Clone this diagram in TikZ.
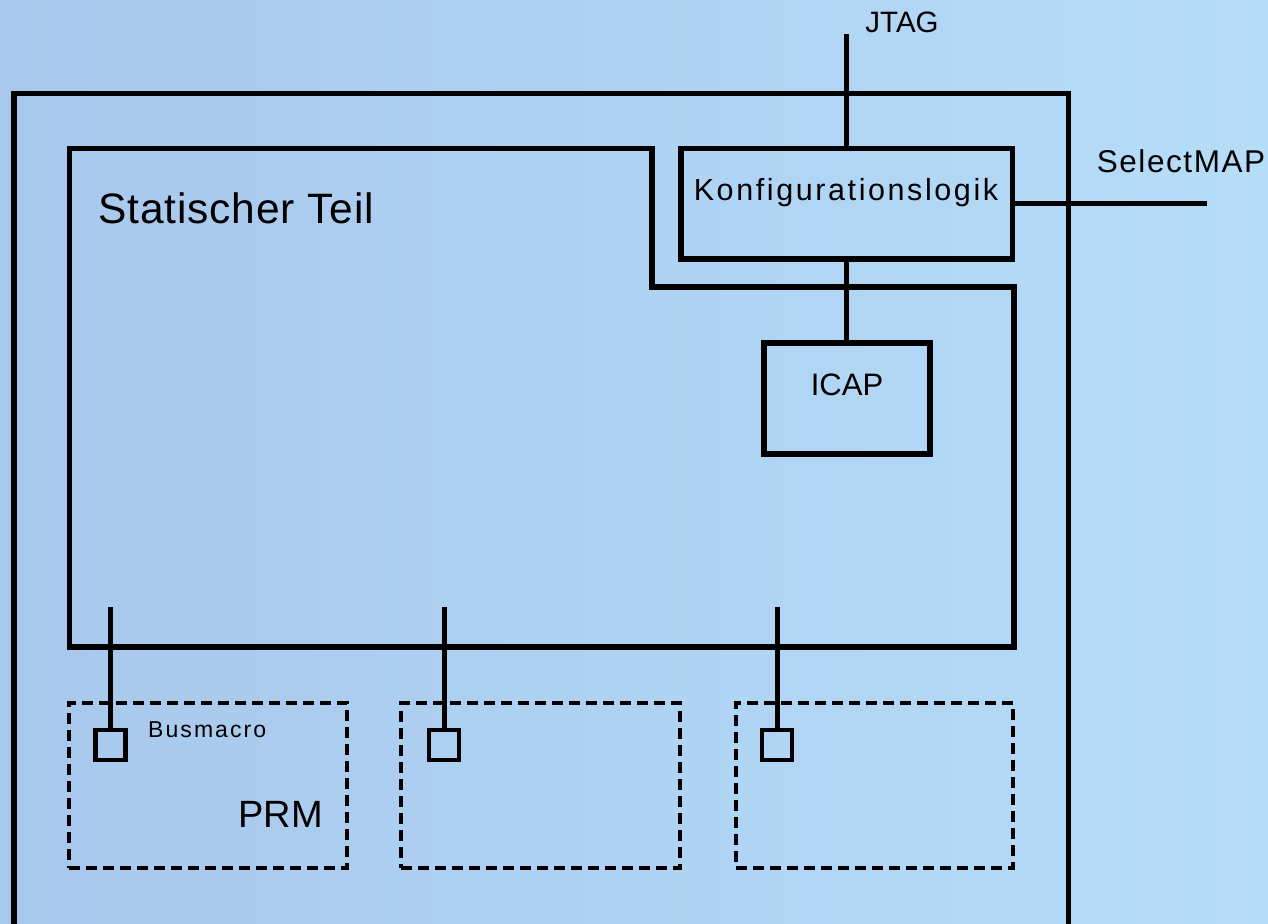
\documentclass[tikz,border=0pt]{standalone}
\usepackage{fontspec}
\setmainfont{Liberation Sans}
\newfontfamily\konffont[LetterSpace=8.5]{Liberation Sans}
\newfontfamily\busfont[LetterSpace=9]{Liberation Sans}
\newfontfamily\stfont[LetterSpace=2]{Liberation Sans}
\newfontfamily\selfont[LetterSpace=5]{Liberation Sans}
\definecolor{bgL}{RGB}{168,199,236}
\definecolor{bgR}{RGB}{182,221,248}
\begin{document}
\begin{tikzpicture}[x=1pt,y=-1pt,
  wall/.style={line width=5.5pt},
  wire/.style={line width=5pt},
  blockbox/.style={draw, line width=5.5pt, inner sep=0pt},
  bmacro/.style={draw, line width=4.5pt, minimum size=30pt, inner sep=0pt},
  prmbox/.style={draw, line width=4.5pt, dash pattern=on 11pt off 6pt, inner sep=0pt, minimum height=165pt},
  txt/.style={inner sep=0pt}]
\shade[left color=bgL, right color=bgR] (0,0) rectangle (1268,923);
\useasboundingbox (0,0) rectangle (1268,923);
\clip (0,0) rectangle (1268,923);

% outer frame (bottom runs off the picture)
\coordinate (oBL) at (14,940);
\coordinate (oTL) at (14,93.5);
\coordinate (oTR) at (1068.5,93.5);
\coordinate (oBR) at (1068.5,940);
\draw[wall] (oBL) -- (oTL) -- (oTR) -- (oBR);

% static part outline
\coordinate (sA) at (69.5,148.5);
\coordinate (sB) at (652,148.5);
\coordinate (sC) at (652,287);
\coordinate (sD) at (1014,287);
\coordinate (sE) at (1014,647);
\coordinate (sF) at (69.5,647);
\draw[wall] (sA) -- (sB) -- (sC) -- (sD) -- (sE) -- (sF) -- cycle;
\node[txt, anchor=base west, font={\stfont\fontsize{42.5pt}{50pt}\selectfont}] (static) at (98,223) {Statischer Teil};

% configuration logic
\node[blockbox, minimum width=331.5pt, minimum height=110.5pt] (konfig) at (846.75,203.75) {};
\node[txt, anchor=base, font={\konffont\fontsize{30.5pt}{36pt}\selectfont}] (konfiglbl) at (846,200) {Konfigurationslogik};

% ICAP
\node[blockbox, minimum width=166pt, minimum height=111pt] (icap) at (846.75,398.5) {};
\node[txt, anchor=base, font={\fontsize{31pt}{36pt}\selectfont}] (icaplbl) at (847,395) {ICAP};

% JTAG / SelectMAP
\draw[wire] (konfig.north) -- ++(0,-111.5) coordinate (jtagend);
\node[txt, anchor=base, font={\fontsize{29.5pt}{34pt}\selectfont}] (jtag) at (902,33) {JTAG};
\coordinate (selend) at (1207,203.75);
\draw[wire] (konfig.east) -- (selend);
\node[txt, anchor=base, font={\selfont\fontsize{31.5pt}{36pt}\selectfont}] (selmap) at (1181,172) {SelectMAP};
\draw[wire] (konfig.south) -- (icap.north);

% PRM regions
\node[prmbox, minimum width=278pt] (prm1) at (208,785.5) {};
\node[prmbox, minimum width=279pt] (prm2) at (540.5,785.5) {};
\node[prmbox, minimum width=277pt] (prm3) at (874.5,785.5) {};

% bus macros
\node[bmacro] (bm1) at (110.5,745) {};
\node[bmacro] (bm2) at (444,745) {};
\node[bmacro] (bm3) at (777,745) {};
\coordinate (st1) at (110.5,607);
\coordinate (st2) at (444,607);
\coordinate (st3) at (777,607);
\draw[wire] (st1) -- (bm1.north);
\draw[wire] (st2) -- (bm2.north);
\draw[wire] (st3) -- (bm3.north);

\node[txt, anchor=base west, font={\busfont\fontsize{23pt}{27pt}\selectfont}] (busm) at (148,737) {Busmacro};
\node[txt, anchor=base east, font={\fontsize{38pt}{45pt}\selectfont}] (prmlbl) at (323,827) {PRM};
\end{tikzpicture}
\end{document}
